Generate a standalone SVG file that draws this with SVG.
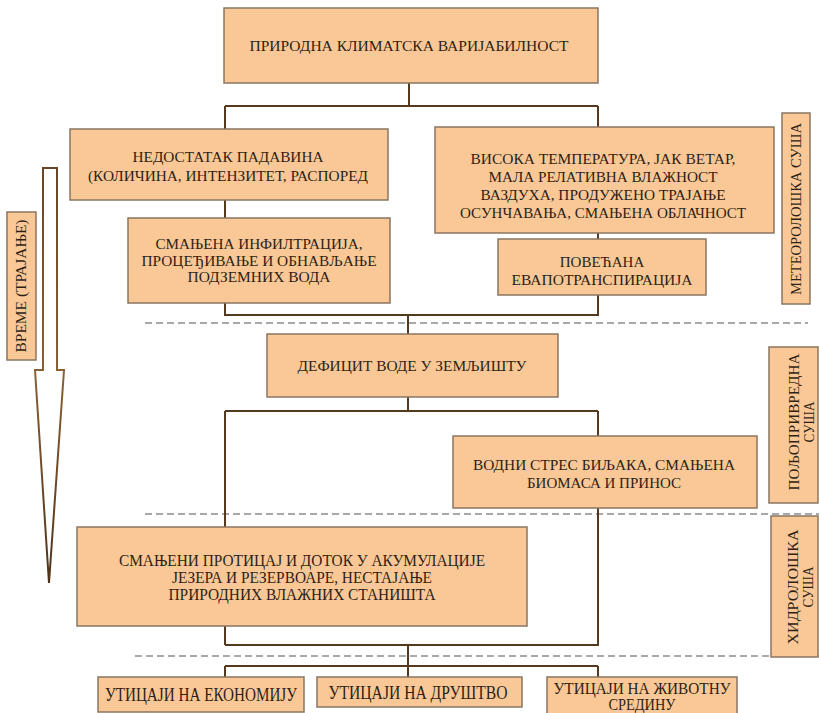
<svg xmlns="http://www.w3.org/2000/svg" width="819" height="713" viewBox="0 0 819 713" font-family="'Liberation Serif', 'Times New Roman', serif">
  <style>
    .box { fill: #FAC896; stroke: #8a7560; stroke-width: 1.5; }
    .t { font-family: 'Liberation Serif', 'Times New Roman', serif; font-size: 15px; fill: #2e1f15; text-anchor: middle; }
    .tc { font-size: 16px; }
    .tb { font-size: 19px; }
    .ts { font-size: 14px; }
    .wire { fill: none; stroke: #54391f; stroke-width: 2; }
    .dash { fill: none; stroke: #8c8c8c; stroke-width: 1.5; stroke-dasharray: 7 4; }
  </style>
  <defs>
    <linearGradient id="arrowStroke" x1="0" y1="0" x2="0" y2="1">
      <stop offset="0" stop-color="#6b4526"/>
      <stop offset="0.5" stop-color="#8a6035"/>
      <stop offset="1" stop-color="#4f3219"/>
    </linearGradient>
  </defs>
  <rect width="819" height="713" fill="#ffffff"/>

  <!-- section separators -->
  <g id="separators">
    <path class="dash" d="M145,323 H808"/>
    <path class="dash" d="M145,514 H819"/>
    <path class="dash" d="M135,656 H819"/>
  </g>

  <!-- connectors -->
  <g id="connectors">
    <path class="wire" d="M409,83 V106 M225,106 H598 M225,106 V129 M598,106 V127"/>
    <path class="wire" d="M225,200 V218"/>
    <path class="wire" d="M598,233 V239"/>
    <path class="wire" d="M225,303 V315 H598 V295"/>
    <path class="wire" d="M408,315 V334"/>
    <path class="wire" d="M408,397 V411 M225,411 H598 M225,411 V527 M598,411 V436"/>
    <path class="wire" d="M598,508 V645 H225 M225,626 V645 M408,645 V677 M225,666 H598 M225,666 V677 M598,666 V677"/>
  </g>

  <!-- time arrow -->
  <g id="time-arrow">
    <polygon points="43,168 57,168 57,370 64,370 49,583 35,370 43,370" fill="#ffffff" stroke="url(#arrowStroke)" stroke-width="2" stroke-linejoin="miter"/>
  </g>
  <g id="time-label">
    <rect class="box" x="7" y="212" width="29" height="148"/>
    <text class="t ts" transform="translate(26,286) rotate(-90)" textLength="133" lengthAdjust="spacingAndGlyphs">ВРЕМЕ (ТРАЈАЊЕ)</text>
  </g>

  <g id="climate-variability">
    <rect class="box" x="224" y="8" width="374" height="75"/>
    <text class="t" x="409" y="51" textLength="319" lengthAdjust="spacingAndGlyphs">ПРИРОДНА КЛИМАТСКА ВАРИЈАБИЛНОСТ</text>
  </g>

  <g id="precipitation-deficit">
    <rect class="box" x="70" y="129" width="318" height="71"/>
    <text class="t" x="228" y="162" textLength="191" lengthAdjust="spacingAndGlyphs">НЕДОСТАТАК ПАДАВИНА</text>
    <text class="t" x="228" y="181" textLength="280" lengthAdjust="spacingAndGlyphs">(КОЛИЧИНА, ИНТЕНЗИТЕТ, РАСПОРЕД</text>
  </g>

  <g id="reduced-infiltration">
    <rect class="box" x="128" y="218" width="262" height="85"/>
    <text class="t" x="259" y="249" textLength="207" lengthAdjust="spacingAndGlyphs">СМАЊЕНА ИНФИЛТРАЦИЈА,</text>
    <text class="t" x="259" y="266" textLength="235" lengthAdjust="spacingAndGlyphs">ПРОЦЕЂИВАЊЕ И ОБНАВЉАЊЕ</text>
    <text class="t" x="259" y="282" textLength="143" lengthAdjust="spacingAndGlyphs">ПОДЗЕМНИХ ВОДА</text>
  </g>

  <g id="weather-conditions">
    <rect class="box" x="435" y="127" width="339" height="106"/>
    <text class="t" x="603" y="164" textLength="265" lengthAdjust="spacingAndGlyphs">ВИСОКА ТЕМПЕРАТУРА, ЈАК ВЕТАР,</text>
    <text class="t" x="603" y="182" textLength="229" lengthAdjust="spacingAndGlyphs">МАЛА РЕЛАТИВНА ВЛАЖНОСТ</text>
    <text class="t" x="603" y="200" textLength="245" lengthAdjust="spacingAndGlyphs">ВАЗДУХА, ПРОДУЖЕНО ТРАЈАЊЕ</text>
    <text class="t" x="603" y="218" textLength="286" lengthAdjust="spacingAndGlyphs">ОСУНЧАВАЊА, СМАЊЕНА ОБЛАЧНОСТ</text>
  </g>

  <g id="evapotranspiration">
    <rect class="box" x="498" y="239" width="208" height="56"/>
    <text class="t" x="602" y="267">ПОВЕЋАНА</text>
    <text class="t" x="602" y="285" textLength="181" lengthAdjust="spacingAndGlyphs">ЕВАПОТРАНСПИРАЦИЈА</text>
  </g>

  <g id="meteorological-drought">
    <rect class="box" x="782" y="113" width="28" height="191"/>
    <text class="t ts" transform="translate(801,209) rotate(-90)" textLength="172" lengthAdjust="spacingAndGlyphs">МЕТЕОРОЛОШКА СУША</text>
  </g>

  <g id="soil-water-deficit">
    <rect class="box" x="267" y="334" width="291" height="63"/>
    <text class="t" x="412" y="371" textLength="229" lengthAdjust="spacingAndGlyphs">ДЕФИЦИТ ВОДЕ У ЗЕМЉИШТУ</text>
  </g>

  <g id="plant-stress">
    <rect class="box" x="453" y="436" width="304" height="72"/>
    <text class="t" x="604" y="470" textLength="262" lengthAdjust="spacingAndGlyphs">ВОДНИ СТРЕС БИЉАКА, СМАЊЕНА</text>
    <text class="t" x="604" y="488">БИОМАСА И ПРИНОС</text>
  </g>

  <g id="agricultural-drought">
    <rect class="box" x="769" y="347" width="49" height="156"/>
    <text class="t ts" transform="translate(799,422) rotate(-90)" textLength="137" lengthAdjust="spacingAndGlyphs">ПОЉОПРИВРЕДНА</text>
    <text class="t ts" transform="translate(814,422) rotate(-90)" textLength="41" lengthAdjust="spacingAndGlyphs">СУША</text>
  </g>

  <g id="reduced-streamflow">
    <rect class="box" x="77" y="527" width="450" height="99"/>
    <text class="t tc" x="302" y="566" textLength="366" lengthAdjust="spacingAndGlyphs">СМАЊЕНИ ПРОТИЦАЈ И ДОТОК У АКУМУЛАЦИЈЕ</text>
    <text class="t tc" x="302" y="583" textLength="260" lengthAdjust="spacingAndGlyphs">ЈЕЗЕРА И РЕЗЕРВОАРЕ, НЕСТАЈАЊЕ</text>
    <text class="t tc" x="302" y="600" textLength="267" lengthAdjust="spacingAndGlyphs">ПРИРОДНИХ ВЛАЖНИХ СТАНИШТА</text>
  </g>

  <g id="hydrological-drought">
    <rect class="box" x="771" y="516" width="47" height="141"/>
    <text class="t ts" transform="translate(798,587) rotate(-90)" textLength="115" lengthAdjust="spacingAndGlyphs">ХИДРОЛОШКА</text>
    <text class="t ts" transform="translate(813,587) rotate(-90)" textLength="41" lengthAdjust="spacingAndGlyphs">СУША</text>
  </g>

  <g id="impact-economy">
    <rect class="box" x="98" y="677" width="206" height="35"/>
    <text class="t tb" x="201" y="701" textLength="192" lengthAdjust="spacingAndGlyphs">УТИЦАЈИ НА ЕКОНОМИЈУ</text>
  </g>

  <g id="impact-society">
    <rect class="box" x="317" y="677" width="205" height="30"/>
    <text class="t tb" x="418" y="699" textLength="179" lengthAdjust="spacingAndGlyphs">УТИЦАЈИ НА ДРУШТВО</text>
  </g>

  <g id="impact-environment">
    <rect class="box" x="547" y="677" width="190" height="44"/>
    <text class="t tc" x="642" y="694" textLength="177" lengthAdjust="spacingAndGlyphs">УТИЦАЈИ НА ЖИВОТНУ</text>
    <text class="t tc" x="642" y="710" textLength="67" lengthAdjust="spacingAndGlyphs">СРЕДИНУ</text>
  </g>
</svg>
